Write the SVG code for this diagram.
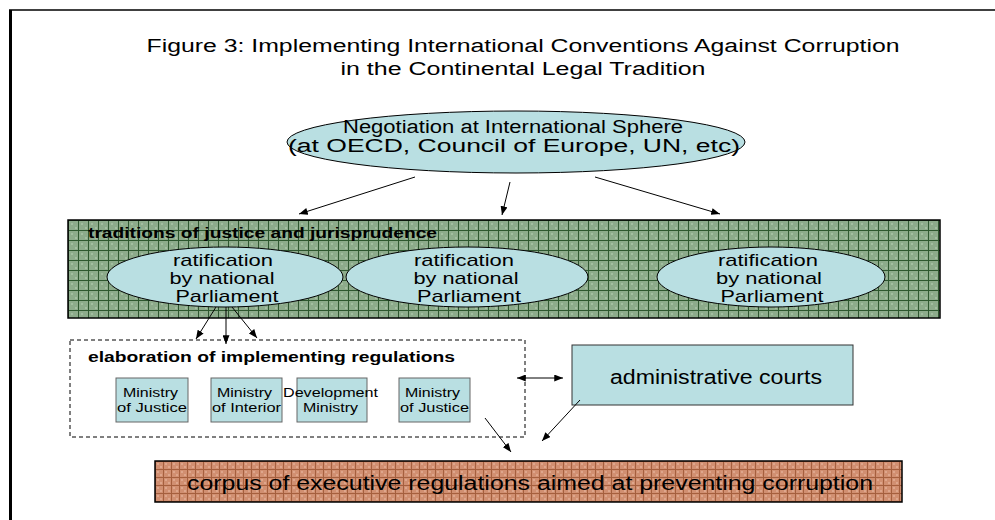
<svg xmlns="http://www.w3.org/2000/svg" width="995" height="520" viewBox="0 0 995 520">
  <style>
    text { font-family: "Liberation Sans", Arial, sans-serif; fill: #000; }
    .title { font-size: 18px; }
    .big { font-size: 18px; }
    .rat { font-size: 17px; }
    .bold { font-size: 14px; font-weight: bold; }
    .small { font-size: 12px; }
    .cyan { fill: #b9dfe2; stroke: #000; stroke-width: 1; }
    .mbox { fill: #b9dfe2; stroke: #666; stroke-width: 1; }
    .edge { stroke: #000; stroke-width: 1; fill: none; marker-end: url(#arrow); }
  </style>
  <defs>
    <marker id="arrow" viewBox="0 0 10 8" refX="10" refY="4" markerWidth="9" markerHeight="7" orient="auto" markerUnits="userSpaceOnUse">
      <path d="M0,0 L10,4 L0,8 Z" fill="#000"/>
    </marker>
    <marker id="arrowStart" viewBox="0 0 10 8" refX="0" refY="4" markerWidth="9" markerHeight="7" orient="auto" markerUnits="userSpaceOnUse">
      <path d="M10,0 L0,4 L10,8 Z" fill="#000"/>
    </marker>
    <!-- green grid texture -->
    <pattern id="greenGrid" width="10" height="10" patternUnits="userSpaceOnUse" x="68" y="220">
      <rect width="10" height="10" fill="#8dab8b"/>
      <rect x="3" y="3" width="2" height="2" fill="#a3bea1"/>
      <rect x="7" y="7" width="2" height="2" fill="#a3bea1"/>
      <path d="M0,0.5 H10 M0.5,0 V10" stroke="#2e572f" stroke-width="1"/>
    </pattern>
    <!-- brown grid texture -->
    <pattern id="brownGrid" width="8" height="8" patternUnits="userSpaceOnUse" x="155" y="461">
      <rect width="8" height="8" fill="#d18f71"/>
      <rect x="2" y="2" width="2" height="2" fill="#dea68c"/>
      <rect x="5" y="5" width="2" height="2" fill="#dea68c"/>
      <path d="M0,0.5 H8 M0.5,0 V8" stroke="#a55f3e" stroke-width="1"/>
    </pattern>
  </defs>

  <!-- frame -->
  <path d="M9,10 H995" stroke="#000" stroke-width="1.5" fill="none"/>
  <path d="M10.5,10 V520" stroke="#000" stroke-width="3" fill="none"/>

  <!-- title -->
  <g id="title">
    <text class="title" x="523" y="52" text-anchor="middle" textLength="753" lengthAdjust="spacingAndGlyphs">Figure 3: Implementing International Conventions Against Corruption</text>
    <text class="title" x="523" y="75" text-anchor="middle" textLength="365" lengthAdjust="spacingAndGlyphs">in the Continental Legal Tradition</text>
  </g>

  <!-- international negotiation -->
  <g id="negotiation">
    <ellipse class="cyan" cx="516" cy="142" rx="229" ry="31"/>
    <text class="big" x="513" y="133" text-anchor="middle" textLength="340" lengthAdjust="spacingAndGlyphs">Negotiation at International Sphere</text>
    <text class="big" x="514" y="152" text-anchor="middle" textLength="452" lengthAdjust="spacingAndGlyphs">(at OECD, Council of Europe, UN, etc)</text>
  </g>

  <!-- traditions band -->
  <g id="traditions">
    <rect x="68" y="220" width="872" height="98" fill="url(#greenGrid)" stroke="#000" stroke-width="1.5"/>
    <text class="bold" x="88" y="238" textLength="349" lengthAdjust="spacingAndGlyphs">traditions of justice and jurisprudence</text>
  </g>

  <g id="ratification1">
    <ellipse class="cyan" cx="225" cy="277" rx="118" ry="30"/>
    <text class="rat" x="223" y="266" text-anchor="middle" textLength="100" lengthAdjust="spacingAndGlyphs">ratification</text>
    <text class="rat" x="222" y="284" text-anchor="middle" textLength="105" lengthAdjust="spacingAndGlyphs">by national</text>
    <text class="rat" x="227" y="302" text-anchor="middle" textLength="103" lengthAdjust="spacingAndGlyphs">Parliament</text>
  </g>
  <g id="ratification2">
    <ellipse class="cyan" cx="467" cy="277" rx="121" ry="30"/>
    <text class="rat" x="464" y="266" text-anchor="middle" textLength="100" lengthAdjust="spacingAndGlyphs">ratification</text>
    <text class="rat" x="466" y="284" text-anchor="middle" textLength="105" lengthAdjust="spacingAndGlyphs">by national</text>
    <text class="rat" x="469" y="302" text-anchor="middle" textLength="104" lengthAdjust="spacingAndGlyphs">Parliament</text>
  </g>
  <g id="ratification3">
    <ellipse class="cyan" cx="771" cy="277" rx="114" ry="30"/>
    <text class="rat" x="768" y="266" text-anchor="middle" textLength="100" lengthAdjust="spacingAndGlyphs">ratification</text>
    <text class="rat" x="769" y="284" text-anchor="middle" textLength="106" lengthAdjust="spacingAndGlyphs">by national</text>
    <text class="rat" x="772" y="302" text-anchor="middle" textLength="103" lengthAdjust="spacingAndGlyphs">Parliament</text>
  </g>

  <!-- implementing regulations -->
  <g id="elaboration">
    <rect x="70" y="340" width="455" height="97" fill="none" stroke="#000" stroke-width="1" stroke-dasharray="4,3"/>
    <text class="bold" x="88" y="362" textLength="367" lengthAdjust="spacingAndGlyphs">elaboration of implementing regulations</text>
  </g>
  <g id="ministry-justice-1">
    <rect class="mbox" x="116" y="378" width="72" height="44"/>
    <text class="small" x="150.5" y="397" text-anchor="middle" textLength="55" lengthAdjust="spacingAndGlyphs">Ministry</text>
    <text class="small" x="152" y="412" text-anchor="middle" textLength="70" lengthAdjust="spacingAndGlyphs">of Justice</text>
  </g>
  <g id="ministry-interior">
    <rect class="mbox" x="211" y="378" width="71" height="44"/>
    <text class="small" x="244.5" y="397" text-anchor="middle" textLength="55" lengthAdjust="spacingAndGlyphs">Ministry</text>
    <text class="small" x="246.5" y="412" text-anchor="middle" textLength="69" lengthAdjust="spacingAndGlyphs">of Interior</text>
  </g>
  <g id="development-ministry">
    <rect class="mbox" x="297" y="378" width="70" height="44"/>
    <text class="small" x="330.5" y="397" text-anchor="middle" textLength="95" lengthAdjust="spacingAndGlyphs">Development</text>
    <text class="small" x="330.5" y="412" text-anchor="middle" textLength="55" lengthAdjust="spacingAndGlyphs">Ministry</text>
  </g>
  <g id="ministry-justice-2">
    <rect class="mbox" x="399" y="378" width="71" height="44"/>
    <text class="small" x="432.5" y="397" text-anchor="middle" textLength="55" lengthAdjust="spacingAndGlyphs">Ministry</text>
    <text class="small" x="434.5" y="412" text-anchor="middle" textLength="69" lengthAdjust="spacingAndGlyphs">of Justice</text>
  </g>

  <!-- courts -->
  <g id="administrative-courts">
    <rect x="572" y="345" width="281" height="60" fill="#b9dfe2" stroke="#333" stroke-width="1"/>
    <text x="716" y="384" text-anchor="middle" font-size="20" textLength="212" lengthAdjust="spacingAndGlyphs">administrative courts</text>
  </g>

  <!-- outcome -->
  <g id="corpus">
    <rect x="155" y="461" width="747" height="41" fill="url(#brownGrid)" stroke="#000" stroke-width="1.5"/>
    <text x="530" y="490" text-anchor="middle" font-size="20" textLength="686" lengthAdjust="spacingAndGlyphs">corpus of executive regulations aimed at preventing corruption</text>
  </g>

  <!-- connectors -->
  <g id="connectors">
    <line class="edge" x1="415" y1="177" x2="299" y2="214"/>
    <line class="edge" x1="510" y1="182" x2="502" y2="215"/>
    <line class="edge" x1="595" y1="177" x2="720" y2="214"/>
    <line class="edge" x1="216" y1="307" x2="196" y2="339"/>
    <line class="edge" x1="226" y1="307" x2="226" y2="344"/>
    <line class="edge" x1="232" y1="307" x2="257" y2="338"/>
    <line class="edge" x1="517" y1="378" x2="563" y2="378" marker-start="url(#arrowStart)"/>
    <line class="edge" x1="580" y1="400" x2="542" y2="441"/>
    <line class="edge" x1="485" y1="418" x2="511" y2="452"/>
  </g>
</svg>
